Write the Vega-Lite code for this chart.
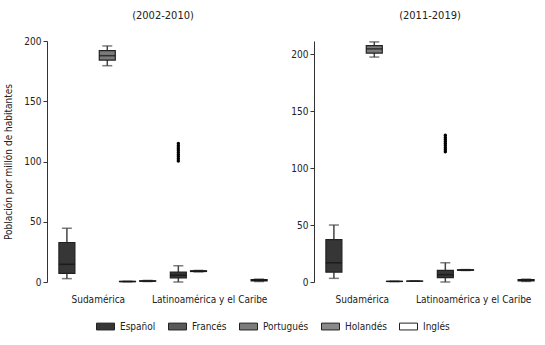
{
  "$schema": "https://vega.github.io/schema/vega-lite/v6.json",
  "padding": {"left": 3, "top": 10, "right": 0, "bottom": 3},
  "datasets": {
    "cajas": [
      {"periodo": "(2002-2010)", "region": "Sudamérica", "idioma": "Español", "lower": 2.8, "q1": 7.2, "median": 14.7, "q3": 32.8, "upper": 44.6},
      {"periodo": "(2002-2010)", "region": "Sudamérica", "idioma": "Portugués", "lower": 179.5, "q1": 184.2, "median": 187.8, "q3": 192.0, "upper": 195.9},
      {"periodo": "(2002-2010)", "region": "Sudamérica", "idioma": "Holandés", "lower": 0.2, "q1": 0.3, "median": 0.4, "q3": 0.5, "upper": 0.6},
      {"periodo": "(2002-2010)", "region": "Sudamérica", "idioma": "Inglés", "lower": 0.4, "q1": 0.6, "median": 0.8, "q3": 1.0, "upper": 1.3},
      {"periodo": "(2002-2010)", "region": "Latinoamérica y el Caribe", "idioma": "Español", "lower": 0.0, "q1": 3.3, "median": 5.6, "q3": 8.3, "upper": 13.5},
      {"periodo": "(2002-2010)", "region": "Latinoamérica y el Caribe", "idioma": "Francés", "lower": 8.4, "q1": 8.7, "median": 9.0, "q3": 9.3, "upper": 9.6},
      {"periodo": "(2002-2010)", "region": "Latinoamérica y el Caribe", "idioma": "Inglés", "lower": 0.4, "q1": 0.9, "median": 1.5, "q3": 2.0, "upper": 2.4},
      {"periodo": "(2011-2019)", "region": "Sudamérica", "idioma": "Español", "lower": 3.2, "q1": 8.7, "median": 16.9, "q3": 37.2, "upper": 50.0},
      {"periodo": "(2011-2019)", "region": "Sudamérica", "idioma": "Portugués", "lower": 197.4, "q1": 200.9, "median": 204.6, "q3": 207.5, "upper": 210.7},
      {"periodo": "(2011-2019)", "region": "Sudamérica", "idioma": "Holandés", "lower": 0.4, "q1": 0.5, "median": 0.5, "q3": 0.6, "upper": 0.6},
      {"periodo": "(2011-2019)", "region": "Sudamérica", "idioma": "Inglés", "lower": 0.7, "q1": 0.7, "median": 0.75, "q3": 0.8, "upper": 0.8},
      {"periodo": "(2011-2019)", "region": "Latinoamérica y el Caribe", "idioma": "Español", "lower": 0.0, "q1": 3.8, "median": 6.4, "q3": 10.2, "upper": 16.9},
      {"periodo": "(2011-2019)", "region": "Latinoamérica y el Caribe", "idioma": "Francés", "lower": 10.1, "q1": 10.3, "median": 10.5, "q3": 10.7, "upper": 10.9},
      {"periodo": "(2011-2019)", "region": "Latinoamérica y el Caribe", "idioma": "Inglés", "lower": 0.5, "q1": 1.0, "median": 1.6, "q3": 2.1, "upper": 2.5}
    ],
    "atipicos": [
      {"periodo": "(2002-2010)", "region": "Latinoamérica y el Caribe", "idioma": "Español", "valor": 100.5},
      {"periodo": "(2002-2010)", "region": "Latinoamérica y el Caribe", "idioma": "Español", "valor": 102.3},
      {"periodo": "(2002-2010)", "region": "Latinoamérica y el Caribe", "idioma": "Español", "valor": 104.1},
      {"periodo": "(2002-2010)", "region": "Latinoamérica y el Caribe", "idioma": "Español", "valor": 105.9},
      {"periodo": "(2002-2010)", "region": "Latinoamérica y el Caribe", "idioma": "Español", "valor": 107.7},
      {"periodo": "(2002-2010)", "region": "Latinoamérica y el Caribe", "idioma": "Español", "valor": 109.5},
      {"periodo": "(2002-2010)", "region": "Latinoamérica y el Caribe", "idioma": "Español", "valor": 111.3},
      {"periodo": "(2002-2010)", "region": "Latinoamérica y el Caribe", "idioma": "Español", "valor": 113.1},
      {"periodo": "(2002-2010)", "region": "Latinoamérica y el Caribe", "idioma": "Español", "valor": 114.9},
      {"periodo": "(2011-2019)", "region": "Latinoamérica y el Caribe", "idioma": "Español", "valor": 114.3},
      {"periodo": "(2011-2019)", "region": "Latinoamérica y el Caribe", "idioma": "Español", "valor": 116.1},
      {"periodo": "(2011-2019)", "region": "Latinoamérica y el Caribe", "idioma": "Español", "valor": 117.9},
      {"periodo": "(2011-2019)", "region": "Latinoamérica y el Caribe", "idioma": "Español", "valor": 119.7},
      {"periodo": "(2011-2019)", "region": "Latinoamérica y el Caribe", "idioma": "Español", "valor": 121.5},
      {"periodo": "(2011-2019)", "region": "Latinoamérica y el Caribe", "idioma": "Español", "valor": 123.3},
      {"periodo": "(2011-2019)", "region": "Latinoamérica y el Caribe", "idioma": "Español", "valor": 125.1},
      {"periodo": "(2011-2019)", "region": "Latinoamérica y el Caribe", "idioma": "Español", "valor": 126.9},
      {"periodo": "(2011-2019)", "region": "Latinoamérica y el Caribe", "idioma": "Español", "valor": 128.7}
    ]
  },
  "config": {
    "font": "DejaVu Sans Condensed, Roboto, sans-serif",
    "view": {"stroke": null},
    "axis": {"labelFontSize": 10, "labelColor": "#222", "titleFontSize": 10, "titleFontWeight": "normal", "titleColor": "#222", "grid": false, "tickColor": "#333", "domainColor": "#333", "tickSize": 4, "labelPadding": 2},
    "concat": {"spacing": 11},
    "title": {"fontSize": 11, "fontWeight": "normal", "color": "#222"},
    "legend": {"labelFontSize": 10, "labelColor": "#222"}
  },
  "resolve": {"scale": {"y": "independent"}},
  "hconcat": [
    {
      "width": 232,
      "height": 241,
      "title": {"text": "(2002-2010)", "offset": 15},
      "encoding": {
        "x": {"field": "region", "type": "nominal", "sort": ["Sudamérica", "Latinoamérica y el Caribe"], "scale": {"paddingInner": 0.094, "paddingOuter": 0.088}, "axis": {"title": null, "labelAngle": 0, "ticks": false, "domain": false, "labelPadding": 12, "labelOffset": -9}},
        "xOffset": {"field": "idioma", "type": "nominal", "scale": {"domain": ["Español", "Francés", "Portugués", "Holandés", "Inglés"], "paddingInner": 0, "paddingOuter": 0}}
      },
      "layer": [
        {
          "data": {"name": "cajas"},
          "transform": [{"filter": "datum.periodo === '(2002-2010)'"}],
          "mark": {"type": "rule", "color": "#444", "strokeWidth": 1.5},
          "encoding": {
            "y": {"field": "lower", "type": "quantitative", "scale": {"domain": [0, 200], "nice": false}, "axis": {"title": "Población por millón de habitantes", "values": [0, 50, 100, 150, 200], "titlePadding": 10}},
            "y2": {"field": "upper"}
          }
        },
        {
          "data": {"name": "cajas"},
          "transform": [{"filter": "datum.periodo === '(2002-2010)'"}],
          "mark": {"type": "tick", "color": "#444", "size": 10, "thickness": 1.5},
          "encoding": {"y": {"field": "lower", "type": "quantitative"}}
        },
        {
          "data": {"name": "cajas"},
          "transform": [{"filter": "datum.periodo === '(2002-2010)'"}],
          "mark": {"type": "tick", "color": "#444", "size": 10, "thickness": 1.5},
          "encoding": {"y": {"field": "upper", "type": "quantitative"}}
        },
        {
          "data": {"name": "cajas"},
          "transform": [{"filter": "datum.periodo === '(2002-2010)'"}],
          "mark": {"type": "bar", "width": 16, "stroke": "#222", "strokeWidth": 1.2},
          "encoding": {
            "y": {"field": "q1", "type": "quantitative"},
            "y2": {"field": "q3"},
            "color": {
              "field": "idioma", "type": "nominal",
              "scale": {"domain": ["Español", "Francés", "Portugués", "Holandés", "Inglés"], "range": ["#363636", "#595959", "#7b7b7b", "#8a8a8a", "#ffffff"]},
              "legend": {"title": null, "orient": "none", "legendX": 49, "legendY": 276, "direction": "horizontal", "columns": 5, "symbolType": "M-1,-0.38H1V0.38H-1Z", "symbolSize": 324, "symbolStrokeColor": "#222", "symbolStrokeWidth": 1, "symbolOpacity": 1, "labelOffset": 5, "columnPadding": 10}
            }
          }
        },
        {
          "data": {"name": "cajas"},
          "transform": [{"filter": "datum.periodo === '(2002-2010)'"}],
          "mark": {"type": "tick", "color": "#111", "size": 16, "thickness": 1.5},
          "encoding": {"y": {"field": "median", "type": "quantitative"}}
        },
        {
          "data": {"name": "atipicos"},
          "transform": [{"filter": "datum.periodo === '(2002-2010)'"}],
          "mark": {"type": "circle", "color": "#000", "size": 12, "opacity": 1},
          "encoding": {"y": {"field": "valor", "type": "quantitative"}}
        }
      ]
    },
    {
      "width": 232,
      "height": 241,
      "title": {"text": "(2011-2019)", "offset": 20},
      "encoding": {
        "x": {"field": "region", "type": "nominal", "sort": ["Sudamérica", "Latinoamérica y el Caribe"], "scale": {"paddingInner": 0.094, "paddingOuter": 0.088}, "axis": {"title": null, "labelAngle": 0, "ticks": false, "domain": false, "labelPadding": 12, "labelOffset": -12}},
        "xOffset": {"field": "idioma", "type": "nominal", "scale": {"domain": ["Español", "Francés", "Portugués", "Holandés", "Inglés"], "paddingInner": 0, "paddingOuter": 0}}
      },
      "layer": [
        {
          "data": {"name": "cajas"},
          "transform": [{"filter": "datum.periodo === '(2011-2019)'"}],
          "mark": {"type": "rule", "color": "#444", "strokeWidth": 1.5},
          "encoding": {
            "y": {"field": "lower", "type": "quantitative", "scale": {"domain": [0, 211.5], "nice": false}, "axis": {"title": null, "values": [0, 50, 100, 150, 200]}},
            "y2": {"field": "upper"}
          }
        },
        {
          "data": {"name": "cajas"},
          "transform": [{"filter": "datum.periodo === '(2011-2019)'"}],
          "mark": {"type": "tick", "color": "#444", "size": 10, "thickness": 1.5},
          "encoding": {"y": {"field": "lower", "type": "quantitative"}}
        },
        {
          "data": {"name": "cajas"},
          "transform": [{"filter": "datum.periodo === '(2011-2019)'"}],
          "mark": {"type": "tick", "color": "#444", "size": 10, "thickness": 1.5},
          "encoding": {"y": {"field": "upper", "type": "quantitative"}}
        },
        {
          "data": {"name": "cajas"},
          "transform": [{"filter": "datum.periodo === '(2011-2019)'"}],
          "mark": {"type": "bar", "width": 16, "stroke": "#222", "strokeWidth": 1.2},
          "encoding": {
            "y": {"field": "q1", "type": "quantitative"},
            "y2": {"field": "q3"},
            "color": {"field": "idioma", "type": "nominal"}
          }
        },
        {
          "data": {"name": "cajas"},
          "transform": [{"filter": "datum.periodo === '(2011-2019)'"}],
          "mark": {"type": "tick", "color": "#111", "size": 16, "thickness": 1.5},
          "encoding": {"y": {"field": "median", "type": "quantitative"}}
        },
        {
          "data": {"name": "atipicos"},
          "transform": [{"filter": "datum.periodo === '(2011-2019)'"}],
          "mark": {"type": "circle", "color": "#000", "size": 12, "opacity": 1},
          "encoding": {"y": {"field": "valor", "type": "quantitative"}}
        }
      ]
    }
  ]
}
